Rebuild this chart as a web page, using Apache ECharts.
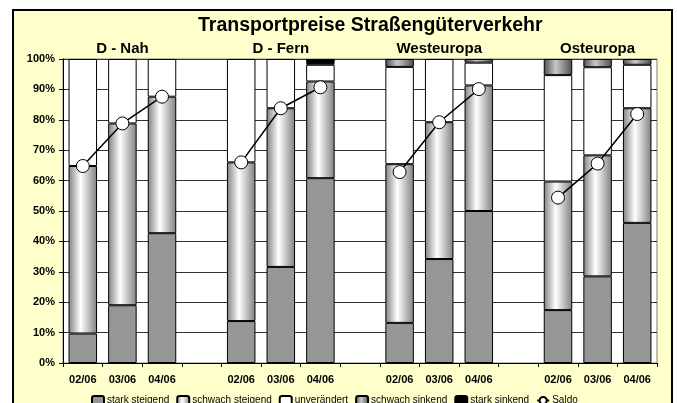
<!DOCTYPE html>
<html>
<head>
<meta charset="utf-8">
<script src="https://cdn.jsdelivr.net/npm/echarts@6/dist/echarts.min.js"></script>
<style>
  html, body { margin: 0; padding: 0; background: #fff; }
  #chart { width: 677px; height: 403px; }
</style>
</head>
<body>
<div id="chart"></div>
<script>
// categories: three months per region, blank slot between regions
const months = ['02/06', '03/06', '04/06', '', '02/06', '03/06', '04/06', '', '02/06', '03/06', '04/06', '', '02/06', '03/06', '04/06'];
const regions = ['', 'D - Nah', '', '', '', 'D - Fern', '', '', '', 'Westeuropa', '', '', '', 'Osteuropa', ''];

// shares in percent, null = no value
const starkSteigend = [9.7, 19.0, 42.7, null, 13.8, 31.6, 60.8, null, 13.2, 34.2, 50.0, null, 17.4, 28.5, 46.1];
const schwachSteigend = [55.1, 59.8, 44.9, null, 52.2, 52.2, 31.8, null, 52.2, 45.0, 41.3, null, 42.3, 39.8, 37.7];
const unveraendert = [35.2, 21.2, 12.4, null, 34.0, 16.2, 5.5, null, 32.0, 20.8, 7.5, null, 35.0, 29.0, 14.3];
const schwachSinkend = [null, null, null, null, null, null, 0.6, null, 2.6, null, 1.2, null, 5.3, 2.7, 1.9];
const starkSinkend = [null, null, null, null, null, null, 1.3, null, null, null, null, null, null, null, null];
const saldo = [64.8, 78.8, 87.6, null, 66.0, 83.8, 90.7, null, 62.8, 79.2, 90.1, null, 54.4, 65.6, 81.9];

const font = 'Arial, "Liberation Sans", sans-serif';

const chart = echarts.init(document.getElementById('chart'));

function grad(edge, mid) {
  return new echarts.graphic.LinearGradient(0, 0, 1, 0, [
    { offset: 0, color: edge },
    { offset: 0.42, color: mid },
    { offset: 1, color: edge }
  ]);
}

function barSeries(name, data, color) {
  return {
    name: name,
    type: 'bar',
    stack: 'total',
    data: data,
    barWidth: '72%',
    itemStyle: { color: color, borderColor: '#000', borderWidth: 1 },
    emphasis: { disabled: true }
  };
}

const option = {
  backgroundColor: '#fff',
  animation: false,
  textStyle: { fontFamily: font },
  graphic: {
    elements: [{
      type: 'rect',
      z: -10,
      shape: { x: 13, y: 10, width: 659, height: 410 },
      style: { fill: '#FFFFCC', stroke: '#000', lineWidth: 2 }
    }]
  },
  title: {
    text: 'Transportpreise Straßengüterverkehr',
    left: 198,
    top: 16,
    padding: 0,
    textStyle: { fontFamily: font, fontSize: 19.5, fontWeight: 'bold', color: '#000' }
  },
  legend: {
    left: 86,
    top: 390,
    itemWidth: 12,
    itemHeight: 9,
    itemGap: 7,
    textStyle: { fontFamily: font, fontSize: 10, color: '#000', padding: [0, 0, 0, -2] },
    data: ['stark steigend', 'schwach steigend', 'unverändert', 'schwach sinkend', 'stark sinkend', 'Saldo']
  },
  grid: {
    left: 63,
    right: 20,
    top: 59,
    bottom: 40,
    show: true,
    backgroundColor: '#fff',
    borderColor: '#808080',
    borderWidth: 1
  },
  xAxis: [{
    type: 'category',
    data: months,
    axisLine: { lineStyle: { color: '#000', width: 1 } },
    axisTick: { show: true, interval: 0, length: 4, lineStyle: { color: '#000' } },
    axisLabel: { interval: 0, margin: 11, fontFamily: font, fontSize: 11, fontWeight: 'bold', color: '#000' }
  }, {
    type: 'category',
    position: 'top',
    data: regions,
    axisLine: { show: false },
    axisTick: { show: false },
    axisLabel: { interval: 0, margin: 3, fontFamily: font, fontSize: 15, fontWeight: 'bold', color: '#000' }
  }],
  yAxis: {
    type: 'value',
    min: 0,
    max: 100,
    interval: 10,
    axisLine: { show: true, lineStyle: { color: '#000', width: 1 } },
    axisTick: { show: true, length: 4, lineStyle: { color: '#000' } },
    axisLabel: { formatter: '{value}%', margin: 8, fontFamily: font, fontSize: 11, fontWeight: 'bold', color: '#000' },
    splitLine: { show: true, lineStyle: { color: '#333', width: 1 } }
  },
  series: [
    barSeries('stark steigend', starkSteigend, '#969696'),
    barSeries('schwach steigend', schwachSteigend, grad('#808080', '#ffffff')),
    barSeries('unverändert', unveraendert, '#ffffff'),
    barSeries('schwach sinkend', schwachSinkend, grad('#4d4d4d', '#c8c8c8')),
    barSeries('stark sinkend', starkSinkend, '#000000'),
    {
      name: 'Saldo',
      type: 'line',
      data: saldo,
      connectNulls: false,
      symbol: 'circle',
      symbolSize: 13,
      z: 5,
      lineStyle: { color: '#000', width: 1.5 },
      itemStyle: { color: '#fff', borderColor: '#000', borderWidth: 1 },
      emphasis: { disabled: true }
    }
  ]
};

chart.setOption(option);
</script>
</body>
</html>
